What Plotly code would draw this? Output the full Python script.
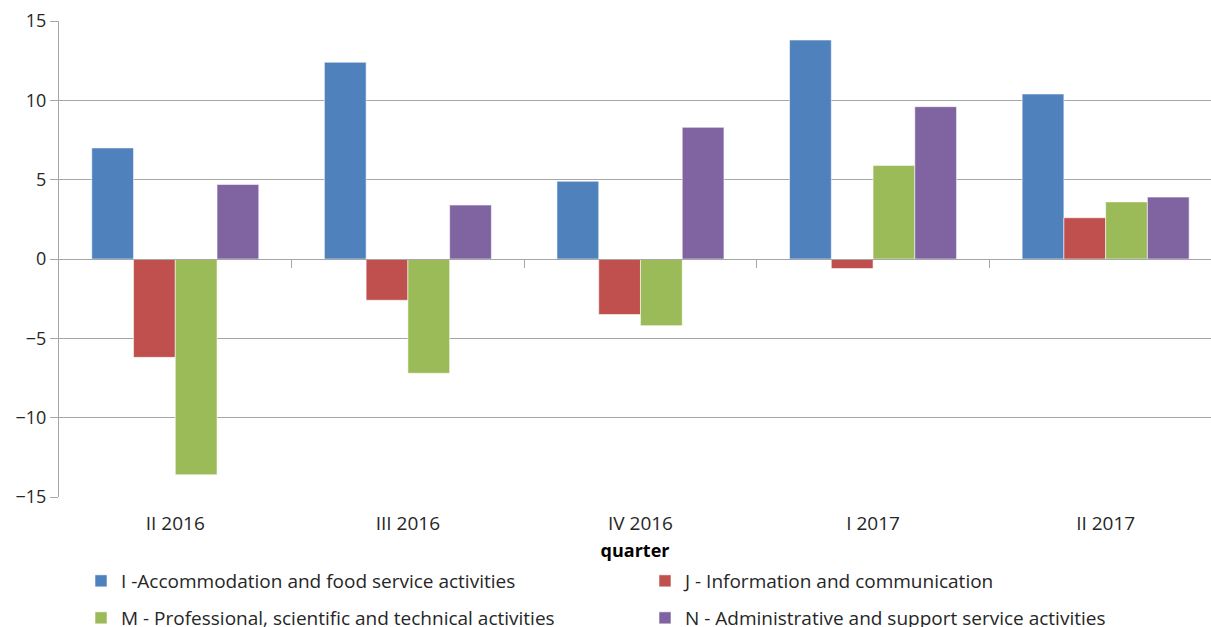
import plotly.graph_objects as go

categories = ["II 2016", "III 2016", "IV 2016", "I 2017", "II 2017"]
series_names = [
    "I -Accommodation and food service activities",
    "J - Information and communication",
    "M - Professional, scientific and technical activities",
    "N - Administrative and support service activities",
]
values_I = [7.0, 12.4, 4.9, 13.8, 10.4]
values_J = [-6.2, -2.6, -3.5, -0.6, 2.6]
values_M = [-13.6, -7.2, -4.2, 5.9, 3.6]
values_N = [4.7, 3.4, 8.3, 9.6, 3.9]
colors = ["#4F81BD", "#C0504D", "#9BBB59", "#8064A2"]
legend_ids = ["legend", "legend", "legend2", "legend2"]

FONT = "Open Sans"
TXT = "#262626"
all_values = [values_I, values_J, values_M, values_N]

fig = go.Figure()
for name, vals, col, lg in zip(series_names, all_values, colors, legend_ids):
    fig.add_trace(go.Bar(
        x=list(range(len(categories))), y=vals, name=name,
        marker=dict(color=col, line=dict(color="rgba(255,255,255,0.55)", width=1)),
        legend=lg,
    ))

# invisible trace so the boundary-tick axis at y=0 is drawn
fig.add_trace(go.Scatter(x=[0], y=[0], xaxis="x2", mode="markers",
                         marker=dict(opacity=0), showlegend=False, hoverinfo="skip"))

xr = [-0.5, 4.453]
fig.update_layout(
    width=1211, height=627,
    margin=dict(l=59, r=0, t=21, b=130),
    paper_bgcolor="white", plot_bgcolor="white",
    barmode="group", bargap=0.282, bargroupgap=0,
    font=dict(family=FONT, size=17, color=TXT),
    xaxis=dict(
        range=xr, tickmode="array", tickvals=list(range(len(categories))),
        ticktext=categories, showgrid=False, zeroline=False, showline=False,
        ticks="", ticklabelstandoff=13,
        tickfont=dict(family=FONT, size=19, color=TXT),
        title=dict(text="<b>quarter</b>", font=dict(family=FONT, size=18, color="#000000"),
                   standoff=12),
    ),
    xaxis2=dict(
        overlaying="x", anchor="free", position=0.5, range=xr,
        tickmode="array", tickvals=[0.5, 1.5, 2.5, 3.5],
        ticks="outside", ticklen=8, tickcolor="#A6A6A6", tickwidth=1,
        showticklabels=False, showgrid=False, zeroline=False,
        showline=True, linecolor="#A6A6A6", linewidth=1,
    ),
    yaxis=dict(
        range=[-15, 15], tickmode="array", tickvals=[-15, -10, -5, 0, 5, 10, 15],
        showgrid=True, gridcolor="#A6A6A6", gridwidth=1,
        zeroline=False, showline=True, linecolor="#A6A6A6", linewidth=1,
        ticks="outside", ticklen=8, tickcolor="#A6A6A6",
        tickfont=dict(family=FONT, size=18, color=TXT),
    ),
    legend=dict(orientation="h", x=81 / 1211, xref="container", xanchor="left",
                y=1 - 581 / 627, yref="container", yanchor="middle",
                entrywidth=519, entrywidthmode="pixels",
                font=dict(family=FONT, size=19, color=TXT), bgcolor="rgba(0,0,0,0)"),
    legend2=dict(orientation="h", x=81 / 1211, xref="container", xanchor="left",
                 y=1 - 618 / 627, yref="container", yanchor="middle",
                 entrywidth=519, entrywidthmode="pixels",
                 font=dict(family=FONT, size=19, color=TXT), bgcolor="rgba(0,0,0,0)"),
)

fig.write_html("out.html")
